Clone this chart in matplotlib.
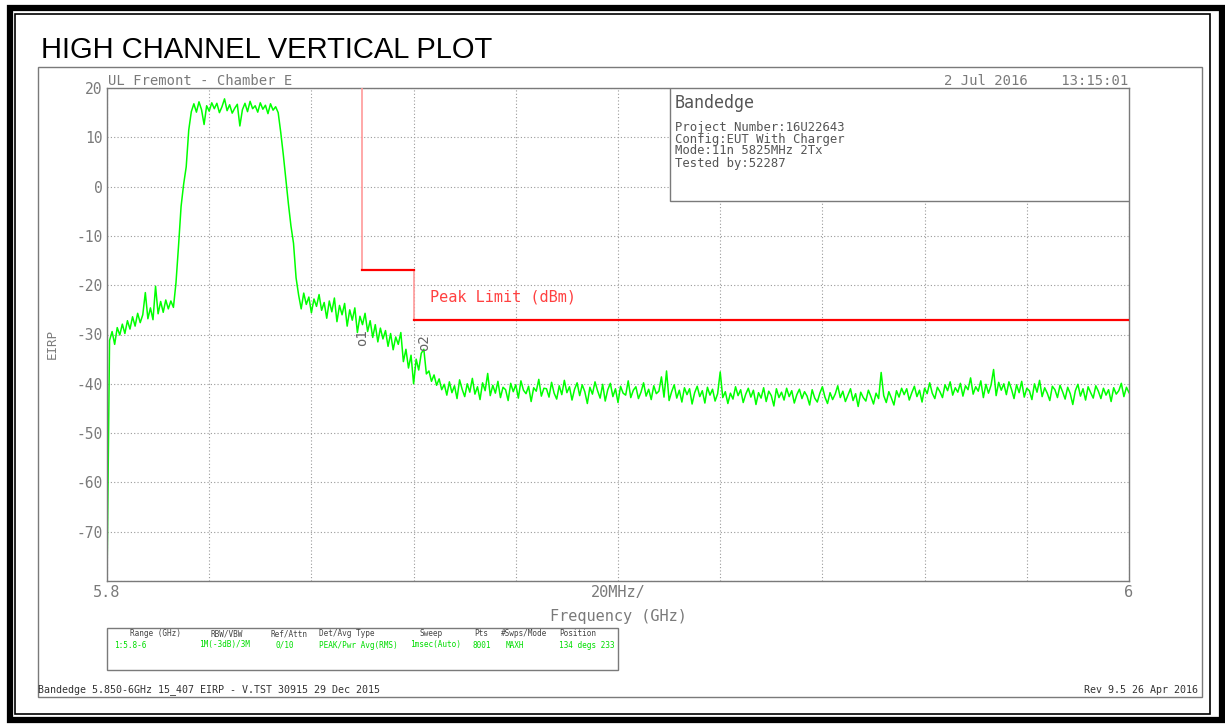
import numpy as np
import matplotlib.pyplot as plt
from matplotlib.patches import Rectangle

# sweep trace, 0.5 MHz per point from 5.8 GHz
eirp_dbm = [
    -80.0, -31.2, -29.4, -32.0, -28.6, -30.1, -27.9, -29.8, -27.2, -28.9,
    -26.4, -28.3, -25.7, -27.6, -26.0, -21.5, -26.8, -24.6, -27.0, -20.2,
    -25.8, -23.3, -25.5, -23.0, -24.8, -23.2, -24.5,
    -19.5, -12.0, -4.0, 0.5, 4.0, 11.5, 15.2, 16.8,
    15.1, 17.2, 15.6, 12.6, 16.4, 15.3, 17.0, 15.8, 16.9, 15.0,
    16.2, 17.8, 15.4, 16.6, 14.9, 15.9, 16.7, 12.3, 15.6, 16.9,
    15.2, 17.3, 15.8, 16.4, 15.1, 17.0, 15.7, 16.5, 14.8, 16.8,
    15.5, 16.2, 15.0,
    11.0, 6.5, 1.5, -3.5, -8.0, -11.5, -18.5, -22.0,
    -24.8, -21.6, -23.9, -22.4, -25.6, -22.8, -24.3, -21.9, -25.1, -23.5,
    -26.7, -23.2, -25.4, -22.6, -27.4, -24.1, -26.0, -23.7, -28.3, -25.0,
    -27.1, -24.6, -29.6, -26.3,
    -28.0, -25.7, -29.4, -27.2, -30.6, -28.0, -31.5, -28.7, -30.9, -29.2,
    -32.4, -29.8, -33.1, -30.5, -32.0, -29.6, -35.5, -33.0, -36.8, -34.2,
    -40.0, -35.0, -37.2, -33.8, -33.0, -38.0, -37.4, -39.5, -38.2, -40.3,
    -39.0, -41.2,
    -40.1, -42.3, -39.6, -41.8, -40.4, -43.0, -39.2, -41.1, -42.6, -40.0,
    -41.7, -38.9, -42.1, -40.6, -43.2, -39.8, -41.4, -37.9, -42.4, -40.3,
    -41.9, -39.5, -42.8, -40.7, -41.2, -43.4, -39.9, -41.6, -40.2, -42.9,
    -39.4, -41.3, -42.0, -40.5, -43.6, -40.8, -41.5, -39.1, -42.5, -40.9,
    -41.0, -42.7, -39.7, -41.9, -43.1, -40.4, -42.2, -39.3, -41.8, -40.6,
    -43.3, -41.1, -39.8, -42.4, -40.2, -41.6, -44.0, -40.7, -42.1, -39.6,
    -41.4, -42.9, -40.1, -43.5, -41.2, -39.9, -42.6, -41.0, -43.8, -40.5,
    -41.9, -42.3, -39.4, -42.8, -41.3, -40.6, -43.0, -41.7, -39.8, -42.5,
    -41.1, -43.2, -40.4, -42.0, -41.5, -38.6, -42.7, -37.4, -43.4, -41.6,
    -40.2, -42.9, -41.3, -43.7, -40.8, -42.2, -41.0, -44.1, -41.8, -40.5,
    -42.6, -41.4, -43.9, -40.7, -42.3, -41.1, -43.5, -42.0, -37.6, -42.8,
    -41.6, -44.0, -41.9, -43.1, -40.6, -42.4, -41.2, -43.8, -42.1, -40.9,
    -42.7, -41.3, -44.2, -41.8, -42.9, -40.8, -43.6, -41.5, -42.4, -44.5,
    -41.0, -42.8, -41.7, -43.3, -40.9, -42.6, -41.4, -43.9, -42.2, -41.1,
    -43.0, -41.6, -42.5, -44.3, -41.2, -42.9, -43.7, -41.9, -40.6, -42.7,
    -44.0, -41.8, -43.2, -42.1, -40.4, -42.8, -41.5, -43.6, -42.3, -41.0,
    -43.4, -42.0, -44.6, -41.7, -42.8, -43.5, -41.3, -42.6, -44.1, -41.9,
    -43.0, -37.7, -42.4, -43.8, -41.6, -42.9, -44.3, -41.4, -42.7, -40.9,
    -42.2, -41.0, -43.3, -41.8, -40.5, -42.6, -41.3, -43.7, -40.9, -42.0,
    -39.8, -41.9, -43.0, -40.7, -41.6, -42.8, -40.2, -41.4, -39.6, -42.3,
    -40.8, -41.7, -39.9, -42.5, -40.4, -41.2, -38.8, -42.1, -40.6, -41.5,
    -39.4, -42.8, -40.1, -41.9, -40.3, -37.1, -42.4, -39.7, -41.3, -40.0,
    -42.2, -39.6, -41.1, -43.0, -40.2, -41.8, -39.5, -42.7, -40.9, -41.4,
    -43.2, -40.0, -41.7, -39.3, -42.6, -40.8, -41.9, -43.4, -40.5, -41.2,
    -42.8, -40.3, -41.6, -43.1, -40.7, -42.0, -44.2, -41.4, -40.1, -42.5,
    -41.0, -43.3, -40.6, -41.8, -42.9, -40.4, -41.5, -43.0, -40.9, -42.3,
    -41.2, -43.6, -40.8, -42.1, -41.4, -39.9, -42.6, -40.7, -41.8,
]
freq_ghz = np.linspace(5.8, 6.0, len(eirp_dbm))

limit_edges_ghz = [5.85, 5.86, 6.0]
limit_dbm = [-17, -27]
marker_ghz = [5.85, 5.862]
marker_dbm = [-30.6, -31.6]
marker_names = ["1", "2"]

yticks = list(range(-80, 21, 10))
xticks = np.linspace(5.8, 6.0, 11)

info_lines = ["Project Number:16U22643", "Config:EUT With Charger",
              "Mode:11n 5825MHz 2Tx", "Tested by:52287"]
table_heads = ["Range (GHz)", "RBW/VBW", "Ref/Attn", "Det/Avg Type", "Sweep",
               "Pts", "#Swps/Mode", "Position"]
table_vals = ["1:5.8-6", "1M(-3dB)/3M", "0/10", "PEAK/Pwr Avg(RMS)",
              "1msec(Auto)", "8001", "MAXH", "134 degs 233"]

W, H = 1225, 724
def fx(x):
    return x / W
def fy(y):
    return 1 - y / H

GRAY = "#7a7a7a"
MONO = "DejaVu Sans Mono"

fig = plt.figure(figsize=(12.25, 7.24), dpi=100)

# page frames
fig.add_artist(Rectangle((fx(10), fy(720)), fx(1212), 712 / H, transform=fig.transFigure,
                         fill=False, ec="black", lw=4.5))
fig.add_artist(Rectangle((fx(15), fy(714)), fx(1195), 700 / H, transform=fig.transFigure,
                         fill=False, ec="black", lw=1.2))
fig.add_artist(Rectangle((fx(38), fy(697)), fx(1164), 630 / H, transform=fig.transFigure,
                         fill=False, ec=GRAY, lw=1))

fig.text(fx(41), fy(58), "HIGH CHANNEL VERTICAL PLOT", fontsize=21,
         family="Liberation Sans", va="baseline")

ax = fig.add_axes([fx(107), fy(581), (1129 - 107) / W, (581 - 88) / H])
ax.plot(freq_ghz, eirp_dbm, color="#00ff00", lw=1.1, zorder=2)

# limit line: pale risers, solid red steps
ax.plot([limit_edges_ghz[0]] * 2, [20, limit_dbm[0]], color="#ff9a9a", lw=1.2, zorder=3)
ax.plot([limit_edges_ghz[1]] * 2, [limit_dbm[0], limit_dbm[1]], color="#ff9a9a", lw=1.2, zorder=3)
ax.plot(limit_edges_ghz[:2], [limit_dbm[0]] * 2, color="red", lw=1.6, zorder=3)
ax.plot(limit_edges_ghz[1:], [limit_dbm[1]] * 2, color="red", lw=1.6, zorder=3)
ax.text(5.8632, -22.4, "Peak Limit (dBm)", color="#ff4040", fontsize=11,
        family=MONO, va="center")

for f, v, n in zip(marker_ghz, marker_dbm, marker_names):
    ax.text(f, v, "o" + n, rotation=90, color="#666666", fontsize=10, family=MONO,
            ha="center", va="center", zorder=4)

ax.set_xlim(5.8, 6.0)
ax.set_ylim(-80, 20)
ax.set_yticks(yticks)
ax.set_yticklabels([str(t) if t > -80 else "" for t in yticks], family=MONO,
                   fontsize=10.5, color=GRAY)
ax.set_xticks(xticks)
xlabels = [""] * 11
xlabels[0], xlabels[5], xlabels[10] = "5.8", "20MHz/", "6"
ax.set_xticklabels(xlabels, family=MONO, fontsize=11, color=GRAY)
ax.tick_params(length=0, pad=3)
ax.grid(True, color="#9a9a9a", lw=0.8, linestyle=(0, (1, 2)))
for s in ax.spines.values():
    s.set_color(GRAY)
    s.set_linewidth(1)

ax.set_xlabel("Frequency (GHz)", family=MONO, fontsize=11, color=GRAY, labelpad=6)
fig.text(fx(52), fy(344), "EIRP", rotation=90, family=MONO, fontsize=9,
         color=GRAY, ha="center", va="center")

fig.text(fx(108), fy(85), "UL Fremont - Chamber E", family=MONO, fontsize=10,
         color=GRAY, va="baseline")
fig.text(fx(1128), fy(85), "2 Jul 2016    13:15:01", family=MONO, fontsize=10,
         color=GRAY, va="baseline", ha="right")

# info box
x0 = (670 - 107) / 1022
y0 = 1 - (201 - 88) / 493
ax.add_patch(Rectangle((x0, y0), 1 - x0, 1 - y0, transform=ax.transAxes,
                       fc="white", ec=GRAY, lw=1, zorder=5))
ax.text((675 - 107) / 1022, 1 - (103 - 88) / 493, "Bandedge", transform=ax.transAxes,
        family=MONO, fontsize=12, color="#555555", va="center", zorder=6)
for i, line in enumerate(info_lines):
    ax.text((675 - 107) / 1022, 1 - (127 + 12 * i - 88) / 493, line,
            transform=ax.transAxes, family=MONO, fontsize=8.8, color="#555555",
            va="center", zorder=6)

# settings table
fig.add_artist(Rectangle((fx(107), fy(670)), (618 - 107) / W, 42 / H,
                         transform=fig.transFigure, fill=False, ec=GRAY, lw=1))
head_x = [155, 227, 289, 347, 431, 481, 524, 578]
val_x = [130, 224, 285, 358, 435, 482, 515, 587]
for hx, hd in zip(head_x, table_heads):
    fig.text(fx(hx), fy(634), hd, family=MONO, fontsize=5.6, color="#444444",
             ha="center", va="center")
for vx, vl in zip(val_x, table_vals):
    fig.text(fx(vx), fy(645), vl, family=MONO, fontsize=5.6, color="#00dd00",
             ha="center", va="center")

fig.text(fx(38), fy(690), "Bandedge 5.850-6GHz 15_407 EIRP - V.TST 30915 29 Dec 2015",
         family=MONO, fontsize=7.2, color="#333333", va="center")
fig.text(fx(1198), fy(690), "Rev 9.5 26 Apr 2016", family=MONO, fontsize=7.2,
         color="#333333", va="center", ha="right")

fig.savefig("out.png", dpi=100)
